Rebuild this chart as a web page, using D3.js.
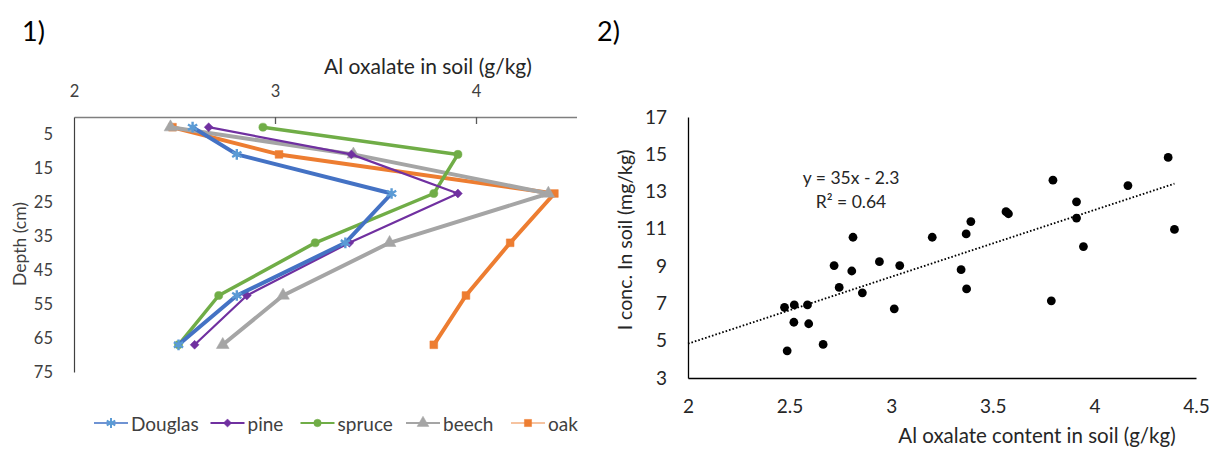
<!DOCTYPE html>
<html><head><meta charset="utf-8">
<script src="https://cdn.jsdelivr.net/npm/d3@7"></script>
<style>
html,body{margin:0;padding:0;background:#fff;}
svg text{font-family:Lato,"Open Sans",sans-serif;}
</style></head>
<body>
<svg id="c" width="1213" height="450"></svg>
<script>
// ---------- data: panel 1 (depth profiles) ----------
const depths = [3, 11, 22.5, 37, 52.5, 67];
const douglas = [2.59, 2.81, 3.58, 3.35, 2.81, 2.52];
const pine    = [2.67, 3.38, 3.91, 3.37, 2.86, 2.60];
const spruce  = [2.94, 3.91, 3.79, 3.20, 2.72, 2.52];
const beech   = [2.48, 3.39, 4.36, 3.57, 3.04, 2.74];
const oak     = [2.49, 3.02, 4.39, 4.17, 3.95, 3.79];
const speciesNames = ["Douglas", "pine", "spruce", "beech", "oak"];
const alTicks1 = [2, 3, 4];
const depthTicks = [5, 15, 25, 35, 45, 55, 65, 75];

// ---------- data: panel 2 (scatter) ----------
const alContent = [2.812, 3.202, 3.369, 4.394, 3.946, 2.719, 2.942, 3.042, 2.806, 3.344,
                   2.744, 2.858, 3.371, 3.788, 2.475, 2.523, 2.588, 3.015, 2.521, 2.594,
                   2.665, 2.488, 4.363, 3.796, 4.165, 3.912, 3.912, 3.565, 3.577, 3.392];
const iConc     = [10.55, 10.55, 10.73, 10.97, 10.05, 9.03, 9.24, 9.03, 8.74, 8.81,
                   7.86, 7.57, 7.78, 7.14, 6.79, 6.92, 6.92, 6.71, 5.99, 5.91,
                   4.80, 4.46, 14.83, 13.61, 13.32, 12.45, 11.58, 11.92, 11.81, 11.39];
const alTicks2 = [2, 2.5, 3, 3.5, 4, 4.5];
const iTicks = [3, 5, 7, 9, 11, 13, 15, 17];
const trendStart = 2;
const eqLines = ["y = 35x - 2.3", "R² = 0.64"];

const svg = d3.select("#c");

// ================= PANEL 1 =================
const x1 = d3.scaleLinear().domain([2, 4.5]).range([74, 576.5]);
const y1 = d3.scaleLinear().domain([0, 75]).range([117, 372]);

svg.append("text").attr("x", 22).attr("y", 41).attr("font-size", 27).attr("fill", "#000").text("1)");
svg.append("text").attr("x", 597).attr("y", 41).attr("font-size", 27).attr("fill", "#000").text("2)");

// top x axis
const gx1 = svg.append("g").attr("transform", `translate(0,${y1(0)})`)
  .call(d3.axisTop(x1).tickValues(alTicks1).tickFormat(d3.format("d")).tickSize(0).tickPadding(20));
gx1.select(".domain").attr("stroke", "#7f7f7f").attr("stroke-width", 1.6);
gx1.selectAll("text").attr("font-size", 16.5).attr("fill", "#404040").attr("font-family", "Lato");
gx1.selectAll(".tick").filter(d => d > 2).append("line").attr("y2", 7).attr("stroke", "#595959").attr("stroke-width", 1.3);

svg.append("text").attr("x", 428).attr("y", 65).attr("text-anchor", "middle")
  .attr("dominant-baseline", "central").attr("font-size", 21).attr("fill", "#262626")
  .text("Al oxalate in soil (g/kg)");

// left y axis
const gy1 = svg.append("g").attr("transform", `translate(${x1(2)},0)`)
  .call(d3.axisLeft(y1).tickValues(depthTicks).tickSize(0).tickPadding(21));
gy1.select(".domain").attr("stroke", "#404040").attr("stroke-width", 1.2);
gy1.selectAll("text").attr("font-size", 16.5).attr("fill", "#404040").attr("font-family", "Lato");

svg.append("text").attr("transform", "translate(19,244) rotate(-90)")
  .attr("text-anchor", "middle").attr("dominant-baseline", "central")
  .attr("font-size", 17.5).attr("fill", "#404040").text("Depth (cm)");

const seriesVals = [douglas, pine, spruce, beech, oak];
const styles = [
  {line: "#4472C4", w: 4,   mk: "#5B9BD5", sym: d3.symbolAsterisk, size: 80, stroke: true, lg: "#6F93D3"},
  {line: "#7030A0", w: 2.2, mk: "#7030A0", sym: d3.symbolDiamond2, size: 50, stroke: false, lg: "#7030A0"},
  {line: "#70AD47", w: 3.5, mk: "#70AD47", sym: d3.symbolCircle,   size: 52, stroke: false, lg: "#70AD47"},
  {line: "#A5A5A5", w: 4,   mk: "#A5A5A5", sym: d3.symbolTriangle, size: 70, stroke: false, lg: "#A5A5A5"},
  {line: "#ED7D31", w: 4,   mk: "#ED7D31", sym: d3.symbolSquare,   size: 60, stroke: false, lg: "#F6C3A0"}
];
const line1 = d3.line().x(d => x1(d[0])).y(d => y1(d[1]));

const order = [4, 3, 2, 1, 0];
order.forEach(i => {
  const pts = seriesVals[i].map((v, k) => [v, depths[k]]);
  const st = styles[i];
  svg.append("path").datum(pts).attr("d", line1).attr("fill", "none")
    .attr("stroke", st.line).attr("stroke-width", st.w).attr("stroke-linejoin", "round");
  svg.selectAll(null).data(pts).enter().append("path")
    .attr("transform", d => `translate(${x1(d[0])},${y1(d[1])})`)
    .attr("d", d3.symbol(st.sym, st.size))
    .attr("fill", st.stroke ? "none" : st.mk)
    .attr("stroke", st.mk).attr("stroke-width", st.stroke ? 2.4 : 0.5);
});

// legend
const legX = [94, 210.5, 300.5, 406, 511];
const legY = 423;
speciesNames.forEach((name, i) => {
  const st = styles[i];
  const g = svg.append("g");
  g.append("line").attr("x1", legX[i]).attr("x2", legX[i] + 34).attr("y1", legY).attr("y2", legY)
    .attr("stroke", st.lg).attr("stroke-width", 2.2);
  g.append("path").attr("transform", `translate(${legX[i] + 17},${legY})`)
    .attr("d", d3.symbol(st.sym, st.size * 0.85))
    .attr("fill", st.stroke ? "none" : st.mk).attr("stroke", st.mk).attr("stroke-width", st.stroke ? 2 : 0.5);
  g.append("text").attr("x", legX[i] + 37).attr("y", legY).attr("dominant-baseline", "central")
    .attr("font-size", 19).attr("fill", "#404040").text(name);
});

// ================= PANEL 2 =================
const x2 = d3.scaleLinear().domain([2, 4.5]).range([688, 1196]);
const y2 = d3.scaleLinear().domain([3, 17]).range([378, 117]);

const gx2 = svg.append("g").attr("transform", `translate(0,${y2(3)})`)
  .call(d3.axisBottom(x2).tickValues(alTicks2).tickFormat(d => d).tickSize(0).tickPadding(22));
gx2.select(".domain").attr("stroke", "#000").attr("stroke-width", 1.3);
gx2.selectAll("text").attr("font-size", 19).attr("fill", "#262626").attr("font-family", "Lato");

const gy2 = svg.append("g").attr("transform", `translate(${x2(2)},0)`)
  .call(d3.axisLeft(y2).tickValues(iTicks).tickSize(0).tickPadding(21));
gy2.select(".domain").attr("stroke", "#000").attr("stroke-width", 1.3);
gy2.selectAll("text").attr("font-size", 19).attr("fill", "#262626").attr("font-family", "Lato");

svg.append("text").attr("x", 1037).attr("y", 435).attr("text-anchor", "middle")
  .attr("dominant-baseline", "central").attr("font-size", 20.5).attr("fill", "#262626")
  .text("Al oxalate content in soil (g/kg)");
svg.append("text").attr("transform", "translate(624,240) rotate(-90)")
  .attr("text-anchor", "middle").attr("dominant-baseline", "central")
  .attr("font-size", 19.5).attr("fill", "#262626").text("I conc. In soil (mg/kg)");

// trend line (least squares from the scatter data)
const n = alContent.length;
const mx = d3.mean(alContent), my = d3.mean(iConc);
let sxy = 0, sxx = 0;
for (let k = 0; k < n; k++) { sxy += (alContent[k] - mx) * (iConc[k] - my); sxx += (alContent[k] - mx) ** 2; }
const slope = sxy / sxx, intercept = my - slope * mx;
const tEnd = d3.max(alContent);
svg.append("line")
  .attr("x1", x2(trendStart)).attr("y1", y2(slope * trendStart + intercept))
  .attr("x2", x2(tEnd)).attr("y2", y2(slope * tEnd + intercept))
  .attr("stroke", "#000").attr("stroke-width", 1.8).attr("stroke-dasharray", "1.6 2");

svg.selectAll(null).data(alContent.map((v, k) => [v, iConc[k]])).enter().append("circle")
  .attr("cx", d => x2(d[0])).attr("cy", d => y2(d[1])).attr("r", 4.4).attr("fill", "#000");

svg.append("text").attr("x", 851).attr("y", 177).attr("text-anchor", "middle")
  .attr("dominant-baseline", "central").attr("font-size", 17.5).attr("fill", "#262626").text(eqLines[0]);
svg.append("text").attr("x", 851).attr("y", 201.5).attr("text-anchor", "middle")
  .attr("dominant-baseline", "central").attr("font-size", 17.5).attr("fill", "#262626").text(eqLines[1]);
</script>
</body></html>
